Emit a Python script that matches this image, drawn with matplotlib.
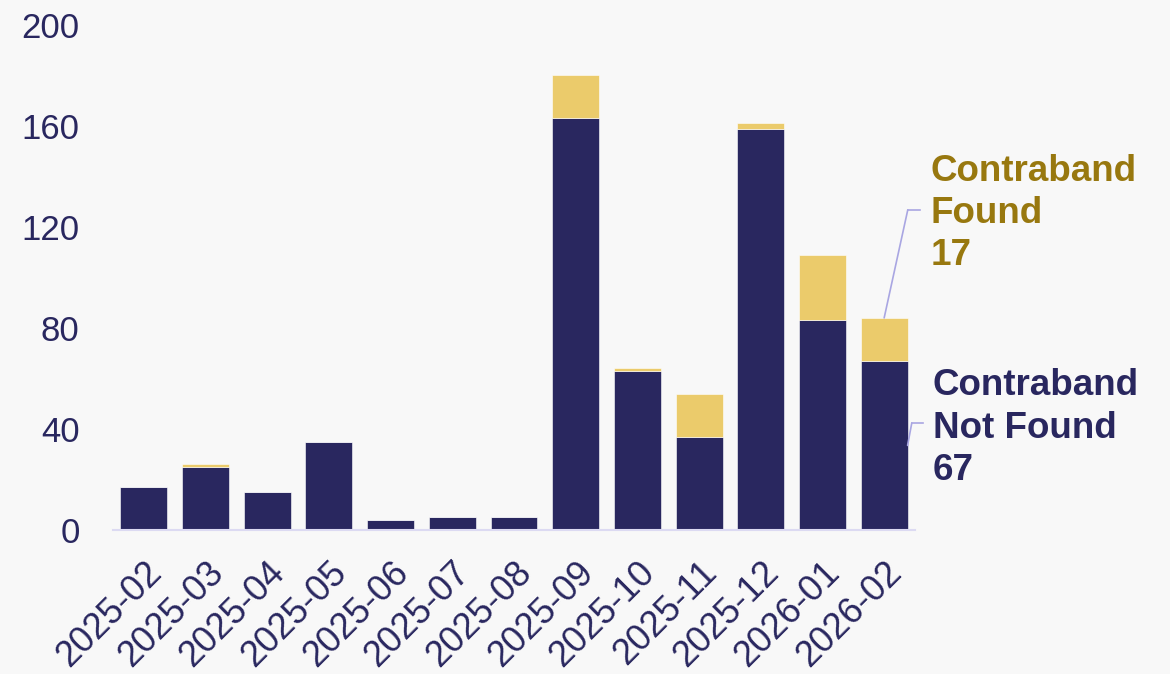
import matplotlib
matplotlib.use("Agg")
import matplotlib.pyplot as plt
from matplotlib.lines import Line2D

months = ["2025-02", "2025-03", "2025-04", "2025-05", "2025-06", "2025-07", "2025-08",
          "2025-09", "2025-10", "2025-11", "2025-12", "2026-01", "2026-02"]
not_found = [17, 25, 15, 35, 4, 5, 5, 163, 63, 37, 159, 83, 67]
found = [0, 1, 0, 0, 0, 0, 0, 17, 1, 17, 2, 26, 17]
y_ticks = [0, 40, 80, 120, 160, 200]

NAVY = "#29275F"
GOLD = "#EBCB6B"
GOLD_TXT = "#98780F"
BG = "#F8F8F8"
LEADER = "#A9A6E2"

plt.rcParams["font.family"] = ["Liberation Sans", "DejaVu Sans"]

fig = plt.figure(figsize=(11.7, 6.74), dpi=100, facecolor=BG)
ax = fig.add_axes([113/1170, 1-530/674, 802/1170, 505/674], facecolor=BG)

x = list(range(len(months)))
ax.bar(x, not_found, width=0.76, color=NAVY, edgecolor="white", linewidth=0.4, zorder=2)
ax.bar(x, found, width=0.76, bottom=not_found, color=GOLD, edgecolor="white", linewidth=0.4, zorder=2)

ax.set_xlim(-0.5, len(months) - 0.5)
ax.set_ylim(0, 200)
ax.set_yticks(y_ticks)
ax.set_yticklabels([str(v) for v in y_ticks], fontsize=25, color=NAVY)
ax.set_xticks(x)
ax.set_xticklabels(months, fontsize=26, color=NAVY, rotation=45, ha="right", rotation_mode="anchor")
ax.tick_params(axis="y", length=0, pad=24)
ax.tick_params(axis="x", length=0, pad=18)
for s in ["top", "right", "left"]:
    ax.spines[s].set_visible(False)
ax.spines["bottom"].set_color("#DCDAF2")
ax.spines["bottom"].set_linewidth(1.5)

last = len(months) - 1
# Found annotation
ax.annotate("", xy=(last, not_found[last] + found[last]), xycoords="data",
            xytext=(0.991, 0.634), textcoords="axes fraction",
            arrowprops=dict(arrowstyle="-", color=LEADER, lw=1.2, shrinkA=0, shrinkB=0),
            annotation_clip=False)
ax.add_line(Line2D([0.991, 1.006], [0.634, 0.634], transform=ax.transAxes, color=LEADER, lw=1.2, clip_on=False))
ax.text(1.019, 0.745, f"Contraband\nFound\n{found[last]}", transform=ax.transAxes,
        fontsize=26.5, fontweight="bold", color=GOLD_TXT, va="top", ha="left", linespacing=1.27)

# Not found annotation
ax.annotate("", xy=(last + 0.38, not_found[last] / 2), xycoords="data",
            xytext=(0.996, 0.212), textcoords="axes fraction",
            arrowprops=dict(arrowstyle="-", color=LEADER, lw=1.2, shrinkA=0, shrinkB=0),
            annotation_clip=False)
ax.add_line(Line2D([0.996, 1.010], [0.212, 0.212], transform=ax.transAxes, color=LEADER, lw=1.2, clip_on=False))
ax.text(1.022, 0.32, f"Contraband\nNot Found\n{not_found[last]}", transform=ax.transAxes,
        fontsize=26.5, fontweight="bold", color=NAVY, va="top", ha="left", linespacing=1.27)

fig.savefig("out.png", dpi=100, facecolor=BG)
